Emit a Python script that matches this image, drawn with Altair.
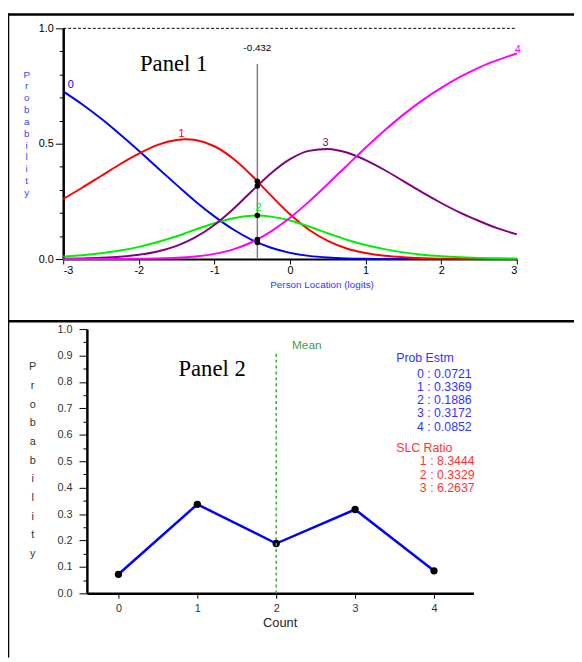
import altair as alt
import pandas as pd

# ---------------- data ----------------
theta = [-3, -2.75, -2.5, -2.25, -2, -1.75, -1.5, -1.375, -1.25, -1, -0.75, -0.5, -0.432,
         -0.25, 0, 0.25, 0.5, 0.75, 1, 1.25, 1.5, 1.75, 2, 2.25, 2.5, 2.75, 3]
p_cat0 = [0.727, 0.671, 0.609, 0.541, 0.4695, 0.395, 0.3215, 0.2854, 0.250, 0.185, 0.128, 0.0824, 0.0721,
          0.049, 0.027, 0.0138, 0.0066, 0.003, 0.0013, 0.0006, 0.0002, 0.0001, 0.00004, 0.00002, 0.00001, 0.0, 0.0]
p_cat1 = [0.2605, 0.309, 0.360, 0.411, 0.457, 0.495, 0.516, 0.5194, 0.516, 0.489, 0.435, 0.360, 0.3369,
          0.275, 0.194, 0.127, 0.079, 0.046, 0.026, 0.014, 0.0075, 0.0039, 0.002, 0.001, 0.0005, 0.0002, 0.0001]
p_cat2 = [0.0112, 0.017, 0.0255, 0.037, 0.053, 0.074, 0.099, 0.1133, 0.128, 0.155, 0.177, 0.188, 0.1886,
          0.184, 0.167, 0.141, 0.112, 0.084, 0.061, 0.043, 0.029, 0.019, 0.0127, 0.0082, 0.0052, 0.0033, 0.0021]
p_cat3 = [0.0014, 0.0028, 0.0054, 0.010, 0.0187, 0.033, 0.057, 0.0742, 0.095, 0.148, 0.217, 0.296, 0.3172,
          0.372, 0.433, 0.469, 0.4775, 0.462, 0.429, 0.386, 0.338, 0.289, 0.243, 0.201, 0.165, 0.133, 0.107]
p_cat4 = [0.00003, 0.0001, 0.0002, 0.0004, 0.001, 0.0024, 0.0053, 0.0078, 0.011, 0.0225, 0.042, 0.074, 0.0852,
          0.120, 0.179, 0.249, 0.3255, 0.4045, 0.4825, 0.557, 0.626, 0.688, 0.742, 0.7895, 0.830, 0.863, 0.891]
categories = ["0", "1", "2", "3", "4"]
cat_colors = ["#0000ff", "#ff0000", "#00ee00", "#800080", "#ff00ff"]

location = -0.432
counts = [0, 1, 2, 3, 4]
prob_estm = [0.0721, 0.3369, 0.1886, 0.3172, 0.0852]
slc_ratio = [8.3444, 0.3329, 6.2637]
mean_count = 2

# ---------------- layout ----------------
OX, OY = 12, 10            # page position of the plot origin
W, H = 582 - OX, 662 - OY
FONT = "Liberation Sans"


def px(v):
    return v - OX


def py(v):
    return v - OY


# panel 1 scales
x1 = alt.Scale(domain=[-3, 3], range=[px(64), px(524)], nice=False, zero=False)
y1 = alt.Scale(domain=[0, 1], range=[py(258), py(24)], nice=False, zero=False)
# panel 2 scales
x2s = alt.Scale(domain=[-0.4, 4.5], range=[px(88), px(480)], nice=False, zero=False)
y2s = alt.Scale(domain=[0, 1], range=[py(597), py(329)], nice=False, zero=False)

common_ax = dict(grid=False, title=None, domainColor="black", tickColor="black",
                 labelFont=FONT, labelFontSize=11)

ax1_x = alt.Axis(orient="bottom", offset=py(258) - H, values=[-3, -2, -1, 0, 1, 2, 3],
                 labelExpr="'' + datum.value", domainWidth=2, tickSize=5, tickWidth=1,
                 labelPadding=1, labelColor="black", **common_ax)
ax1_y = alt.Axis(orient="left", offset=-px(64), values=[0, 0.5, 1], format=".1f",
                 domainWidth=2.5, tickSize=8, tickWidth=1, labelPadding=2,
                 labelColor="black", **common_ax)
ax1_ym = alt.Axis(orient="left", offset=-px(64), values=[0.1, 0.2, 0.3, 0.4, 0.6, 0.7, 0.8, 0.9],
                  labels=False, domain=False, tickSize=4, tickWidth=1, **common_ax)

ax2_x = alt.Axis(orient="bottom", offset=py(597) - H, values=[0, 1, 2, 3, 4], format="d",
                 domainWidth=2.5, tickSize=5, tickWidth=1, labelPadding=4,
                 labelColor="#333333", **common_ax)
ax2_y = alt.Axis(orient="left", offset=-px(88),
                 values=[0, 0.1, 0.2, 0.3, 0.4, 0.5, 0.6, 0.7, 0.8, 0.9, 1.0], format=".1f",
                 domainWidth=2.5, tickSize=8, tickWidth=1, labelPadding=7,
                 labelColor="#333333", **common_ax)
ax2_ym = alt.Axis(orient="left", offset=-px(88),
                  values=[0.05, 0.15, 0.25, 0.35, 0.45, 0.55, 0.65, 0.75, 0.85, 0.95],
                  labels=False, domain=False, tickSize=4, tickWidth=1, **common_ax)

# ---------------- tables ----------------
rows = []
for cat, series in zip(categories, [p_cat0, p_cat1, p_cat2, p_cat3, p_cat4]):
    for t, p in zip(theta, series):
        rows.append({"theta": t, "prob": p, "cat": cat})
curves = pd.DataFrame(rows)

dots1 = pd.DataFrame({"theta": [location] * 5, "prob": prob_estm})

curve_labels = pd.DataFrame({
    "x": [-2.90, -1.435, -0.417, 0.469, 3.013],
    "y": [0.756, 0.543, 0.219, 0.504, 0.906],
    "text": categories,
    "color": cat_colors,
})

panel2 = pd.DataFrame({"count": counts, "prob": prob_estm})

# text block in panel 2 (positions in panel-2 data units)
blk_rows = [{"x": 3.521, "y": 0.891, "text": "Prob Estm", "color": "#3333ff"}]
for i, (c, v) in enumerate(zip(counts, prob_estm)):
    blk_rows.append({"x": 3.784, "y": 0.831 - i * 0.0502, "text": f"{c} : {v:.4f}", "color": "#3333ff"})
blk_rows.append({"x": 3.521, "y": 0.551, "text": "SLC Ratio", "color": "#ff3333"})
for i, v in enumerate(slc_ratio):
    blk_rows.append({"x": 3.821, "y": 0.501 - i * 0.0515, "text": f"{i + 1} : {v:.4f}", "color": "#ff3333"})
block = pd.DataFrame(blk_rows)


def one(**kw):
    return pd.DataFrame([kw])


# ---------------- panel 1 layers ----------------
lines1 = alt.Chart(curves).mark_line(strokeWidth=2, interpolate="monotone").encode(
    x=alt.X("theta:Q", scale=x1, axis=ax1_x),
    y=alt.Y("prob:Q", scale=y1, axis=ax1_y),
    color=alt.Color("cat:N", scale=alt.Scale(domain=categories, range=cat_colors), legend=None),
    detail="cat:N",
)

vline1 = alt.Chart(one(x=location, y=0, y2=0.846)).mark_rule(color="#808080", strokeWidth=1.5).encode(
    x=alt.X("x:Q", scale=x1, axis=None),
    y=alt.Y("y:Q", scale=y1, axis=None),
    y2="y2:Q",
)

dash1 = alt.Chart(one(x=-3, x2=3, y=1)).mark_rule(color="black", strokeWidth=1, strokeDash=[3, 2]).encode(
    x=alt.X("x:Q", scale=x1, axis=None),
    x2="x2:Q",
    y=alt.Y("y:Q", scale=y1, axis=None),
)

pts1 = alt.Chart(dots1).mark_circle(color="black", size=32, opacity=1).encode(
    x=alt.X("theta:Q", scale=x1, axis=None),
    y=alt.Y("prob:Q", scale=y1, axis=ax1_ym),
)

lab1 = alt.Chart(curve_labels).mark_text(font=FONT, fontSize=11, baseline="middle").encode(
    x=alt.X("x:Q", scale=x1, axis=None),
    y=alt.Y("y:Q", scale=y1, axis=None),
    text="text:N",
    color=alt.Color("color:N", scale=None),
)

title1 = alt.Chart(one(x=-1.539, y=0.846, text="Panel 1")).mark_text(
    font="Liberation Serif", fontSize=23, color="black", baseline="middle").encode(
    x=alt.X("x:Q", scale=x1, axis=None), y=alt.Y("y:Q", scale=y1, axis=None), text="text:N")

loclab = alt.Chart(one(x=location, y=0.915, text=str(location))).mark_text(
    font=FONT, fontSize=10, color="black", baseline="middle").encode(
    x=alt.X("x:Q", scale=x1, axis=None), y=alt.Y("y:Q", scale=y1, axis=None), text="text:N")

xtitle1 = alt.Chart(one(x=0.424, y=-0.111, text="Person Location (logits)")).mark_text(
    font=FONT, fontSize=10, color="#3333ff", baseline="middle").encode(
    x=alt.X("x:Q", scale=x1, axis=None), y=alt.Y("y:Q", scale=y1, axis=None), text="text:N")

# first letter placed at the given y, following letters go downwards
ytitle1 = alt.Chart(one(x=-3.483, y=0.799, text="\n".join("Probability"))).mark_text(
    font=FONT, fontSize=10, color="#3f3fff", baseline="middle", lineBreak="\n", lineHeight=12).encode(
    x=alt.X("x:Q", scale=x1, axis=None), y=alt.Y("y:Q", scale=y1, axis=None), text="text:N")

# ---------------- panel 2 layers ----------------
line2 = alt.Chart(panel2).mark_line(color="#0000ff", strokeWidth=2.5).encode(
    x=alt.X("count:Q", scale=x2s, axis=ax2_x),
    y=alt.Y("prob:Q", scale=y2s, axis=ax2_y),
)

pts2 = alt.Chart(panel2).mark_circle(color="black", size=55, opacity=1).encode(
    x=alt.X("count:Q", scale=x2s, axis=None),
    y=alt.Y("prob:Q", scale=y2s, axis=ax2_ym),
)

mean2 = alt.Chart(one(x=mean_count, y=0, y2=0.914)).mark_rule(
    color="#33aa33", strokeWidth=1.5, strokeDash=[3, 3]).encode(
    x=alt.X("x:Q", scale=x2s, axis=None),
    y=alt.Y("y:Q", scale=y2s, axis=None),
    y2="y2:Q",
)

meanlab = alt.Chart(one(x=2.3875, y=0.940, text="Mean")).mark_text(
    font=FONT, fontSize=12, color="#4a9a4a", baseline="middle").encode(
    x=alt.X("x:Q", scale=x2s, axis=None), y=alt.Y("y:Q", scale=y2s, axis=None), text="text:N")

title2 = alt.Chart(one(x=1.1875, y=0.847, text="Panel 2")).mark_text(
    font="Liberation Serif", fontSize=23, color="black", baseline="middle").encode(
    x=alt.X("x:Q", scale=x2s, axis=None), y=alt.Y("y:Q", scale=y2s, axis=None), text="text:N")

blk = alt.Chart(block).mark_text(font=FONT, fontSize=12.5, align="left", baseline="middle").encode(
    x=alt.X("x:Q", scale=x2s, axis=None),
    y=alt.Y("y:Q", scale=y2s, axis=None),
    text="text:N",
    color=alt.Color("color:N", scale=None),
)

xtitle2 = alt.Chart(one(x=2.05, y=-0.112, text="Count")).mark_text(
    font=FONT, fontSize=13, color="#222222", baseline="middle").encode(
    x=alt.X("x:Q", scale=x2s, axis=None), y=alt.Y("y:Q", scale=y2s, axis=None), text="text:N")

ytitle2 = alt.Chart(one(x=-1.0875, y=0.8545, text="\n".join("Probability"))).mark_text(
    font=FONT, fontSize=11, color="#333333", baseline="middle", lineBreak="\n", lineHeight=18.9).encode(
    x=alt.X("x:Q", scale=x2s, axis=None), y=alt.Y("y:Q", scale=y2s, axis=None), text="text:N")

# ---------------- panel borders ----------------
border_df = pd.DataFrame({"k": [0]})
top_b = alt.Chart(border_df).mark_rule(color="black", strokeWidth=2.5).encode(
    x=alt.value(px(8) - 1), x2=alt.value(W), y=alt.value(py(10)))
mid_b = alt.Chart(border_df).mark_rule(color="black", strokeWidth=2.5).encode(
    x=alt.value(px(8) - 1), x2=alt.value(W), y=alt.value(py(321)))
left_b = alt.Chart(border_df).mark_rule(color="black", strokeWidth=2.5).encode(
    x=alt.value(px(8)), y=alt.value(py(10) - 1), y2=alt.value(H))

chart = alt.layer(
    lines1, vline1, dash1, pts1, lab1, title1, loclab, xtitle1, ytitle1,
    line2, pts2, mean2, meanlab, title2, blk, xtitle2, ytitle2,
    top_b, mid_b, left_b,
).resolve_scale(
    x="independent", y="independent", color="independent"
).properties(
    width=W, height=H,
    padding={"left": OX - 8, "top": OY - 8, "right": 0, "bottom": 0},
    autosize="none",
    background="white",
).configure_view(stroke=None)

chart.save("out.html", embed_options={"renderer": "svg", "actions": False})
